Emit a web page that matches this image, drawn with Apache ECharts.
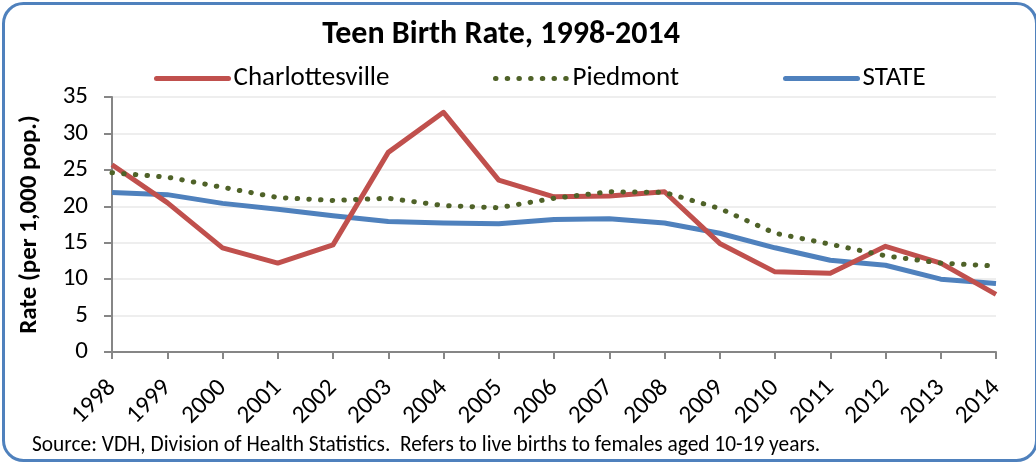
<!DOCTYPE html>
<html><head><meta charset="utf-8">
<script src="https://cdn.jsdelivr.net/npm/echarts@6/dist/echarts.min.js"></script>
<style>html,body{margin:0;padding:0;background:#fff}#c{width:1036px;height:462px}</style>
</head><body><div id="c"></div>
<script>
const years = ['1998','1999','2000','2001','2002','2003','2004','2005','2006','2007','2008','2009','2010','2011','2012','2013','2014'];
const charlottesville = [25.7,20.5,14.3,12.2,14.7,27.4,32.9,23.6,21.3,21.4,22.0,14.9,11.0,10.8,14.5,12.2,7.9];
const piedmont = [24.6,24.0,22.6,21.2,20.8,21.1,20.1,19.8,21.1,22.0,21.9,19.7,16.3,14.8,13.2,12.2,11.8];
const state = [21.9,21.6,20.4,19.6,18.7,17.9,17.7,17.6,18.2,18.3,17.7,16.3,14.3,12.6,11.9,10.0,9.4];
const yTicks = [0,5,10,15,20,25,30,35];

const FONT = 'Carlito, "Liberation Sans Narrow", "Open Sans", sans-serif';
function leg(name, left){
  return {left:left, top:60, itemWidth:72, itemHeight:6,
    itemStyle:{opacity:0},
    lineStyle:{width:5, cap:'round'},
    textStyle:{fontFamily:FONT, fontSize:27, color:'#000'},
    data:[name]};
}
const chart = echarts.init(document.getElementById('c'), null, {renderer:'canvas'});
chart.setOption({
  animation:false,
  textStyle:{fontFamily:FONT},
  title:{text:'Teen Birth Rate, 1998-2014', left:496, top:14, textAlign:'center',
    textStyle:{fontFamily:FONT, fontSize:32, fontWeight:'bold', color:'#000'}},
  legend:[leg('Charlottesville',149), leg('Piedmont',488), leg('STATE',778)],
  grid:{left:112, right:40, top:97, bottom:110, containLabel:false},
  xAxis:{type:'category', data:years, boundaryGap:false,
    axisLine:{lineStyle:{color:'#868686', width:2}},
    axisTick:{alignWithLabel:true, length:7, lineStyle:{color:'#868686', width:2}},
    axisLabel:{rotate:45, fontSize:25, color:'#000', fontFamily:FONT, margin:32, interval:0}},
  yAxis:{type:'value', min:yTicks[0], max:yTicks[yTicks.length-1], interval:5,
    name:'Rate (per 1,000 pop.)', nameLocation:'middle', nameGap:70,
    nameTextStyle:{fontFamily:FONT, fontSize:25, fontWeight:'bold', color:'#000'},
    axisLine:{show:true, lineStyle:{color:'#868686', width:2}},
    axisTick:{show:true, length:8, lineStyle:{color:'#868686', width:2}},
    splitLine:{lineStyle:{color:'#EEEEEE', width:2}},
    axisLabel:{fontSize:25, color:'#000', fontFamily:FONT, margin:24}},
  series:[
    {name:'Charlottesville', type:'line', data:charlottesville, symbol:'none', z:3,
      lineStyle:{color:'#C0504D', width:5, join:'round'}, itemStyle:{color:'#C0504D'}},
    {name:'Piedmont', type:'line', data:piedmont, symbol:'none', z:4,
      lineStyle:{color:'#4F6228', width:5, type:[0.5,11.2], cap:'round'}, itemStyle:{color:'#4F6228'}},
    {name:'STATE', type:'line', data:state, symbol:'none', z:2,
      lineStyle:{color:'#4F81BD', width:5, join:'round'}, itemStyle:{color:'#4F81BD'}}
  ],
  graphic:[
    {type:'rect', left:1, top:1, shape:{width:1033, height:457, r:20}, silent:true,
      style:{fill:'none', stroke:'#4F81BD', lineWidth:3}},
    {type:'text', left:32, top:435, style:{text:'Source: VDH, Division of Health Statistics.  Refers to live births to females aged 10-19 years.',
      font:'21.4px '+FONT, fill:'#000'}}
  ]
});
</script></body></html>
